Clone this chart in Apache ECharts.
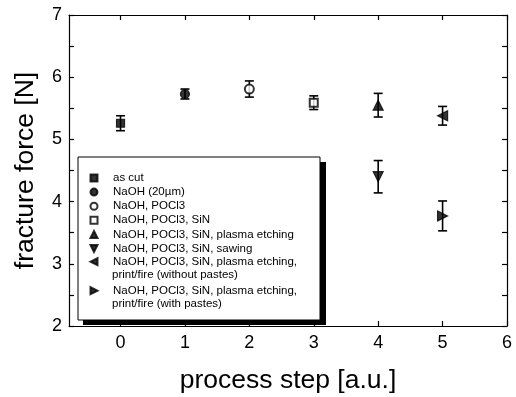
<!DOCTYPE html>
<html>
<head>
<meta charset="utf-8">
<script src="https://cdn.jsdelivr.net/npm/echarts@6/dist/echarts.min.js"></script>
<style>
html, body { margin: 0; padding: 0; background: #fff; }
#chart { width: 516px; height: 397px; }
</style>
</head>
<body>
<div id="chart"></div>
<script>
// process step of each sample group
const steps = [0, 1, 2, 3, 4, 4, 5, 5]
// mean fracture force [N] and its error
const force = [5.26, 5.73, 5.81, 5.59, 5.55, 4.40, 5.38, 3.77]
const forceErr = [0.12, 0.08, 0.13, 0.11, 0.19, 0.26, 0.15, 0.24]
const names = [
  'as cut',
  'NaOH (20µm)',
  'NaOH, POCl3',
  'NaOH, POCl3, SiN',
  'NaOH, POCl3, SiN, plasma etching',
  'NaOH, POCl3, SiN, sawing',
  'NaOH, POCl3, SiN, plasma etching,\nprint/fire (without pastes)',
  'NaOH, POCl3, SiN, plasma etching,\nprint/fire (with pastes)'
]
const symbols = ['rect', 'circle', 'emptyCircle', 'emptyRect', 'triangle', 'triangle', 'triangle', 'triangle']
const rotations = [0, 0, 0, 0, 0, 180, 90, -90]
const sizes = [8, 9, 9, 8, 10, 10, 10, 10]
const xTicks = [0, 1, 2, 3, 4, 5, 6]

// legend icons for the turned triangles (legend does not pick up symbolRotate)
const legendIcons = [null, null, null, null, null,
  'path://M0,0L10,0L5,10Z',
  'path://M10,0L10,10L0,5Z',
  'path://M0,0L10,5L0,10Z']

const font = 'Liberation Sans, Arial, sans-serif'
const chart = echarts.init(document.getElementById('chart'))

const series = names.map((name, i) => ({
  name,
  type: 'scatter',
  symbol: symbols[i],
  symbolSize: sizes[i],
  symbolRotate: rotations[i],
  itemStyle: { color: '#000', borderColor: '#000', borderWidth: 1.2 },
  z: 3,
  data: [[steps[i], force[i]]]
}))

series.push({
  type: 'custom',
  z: 2,
  encode: { x: 0, y: [1, 2] },
  data: steps.map((s, i) => [s, force[i] - forceErr[i], force[i] + forceErr[i]]),
  renderItem(params, api) {
    const top = api.coord([api.value(0), api.value(2)])
    const bot = api.coord([api.value(0), api.value(1)])
    const w = 4.5
    const style = { stroke: '#000', lineWidth: 1.6 }
    return {
      type: 'group',
      children: [
        { type: 'line', shape: { x1: top[0], y1: top[1], x2: bot[0], y2: bot[1] }, style },
        { type: 'line', shape: { x1: top[0] - w, y1: top[1], x2: top[0] + w, y2: top[1] }, style },
        { type: 'line', shape: { x1: bot[0] - w, y1: bot[1], x2: bot[0] + w, y2: bot[1] }, style }
      ]
    }
  }
})

const legendItems = names.map((name, i) => legendIcons[i] ? { name, icon: legendIcons[i] } : { name })

const legendBase = {
  orient: 'vertical',
  left: 89.5,
  padding: 0,
  itemWidth: 7,
  itemHeight: 7,
  formatter: (name) => name.split('\n')[0],
  textStyle: { fontFamily: font, fontSize: 11.5, color: '#000', lineHeight: 14, padding: [0, 0, 0, 10.5] }
}

const axisLine = { show: true, onZero: false, lineStyle: { color: '#000', width: 1.2 } }
const tickStyle = { color: '#000', width: 1.2 }

const option = {
  animation: false,
  grid: { left: 69, top: 15, right: 9, bottom: 71, outerBoundsMode: 'none' },
  xAxis: [
    {
      type: 'value',
      min: -0.8,
      max: 6,
      axisLine,
      splitLine: { show: false },
      axisTick: { inside: true, length: 5, lineStyle: tickStyle, customValues: xTicks },
      axisLabel: { customValues: xTicks, fontFamily: font, fontSize: 18, color: '#000', margin: 8 },
      name: 'process step [a.u.]',
      nameLocation: 'middle',
      nameGap: 41,
      nameTextStyle: { fontFamily: font, fontSize: 26.5, color: '#000' }
    },
    {
      type: 'value',
      position: 'top',
      min: -0.8,
      max: 6,
      axisLine,
      splitLine: { show: false },
      axisTick: { inside: true, length: 5, lineStyle: tickStyle, customValues: xTicks },
      axisLabel: { show: false }
    }
  ],
  yAxis: [
    {
      type: 'value',
      min: 2,
      max: 7,
      interval: 1,
      axisLine,
      splitLine: { show: false },
      axisTick: { inside: true, length: 5, lineStyle: tickStyle },
      minorTick: { show: true, splitNumber: 2, length: 5, lineStyle: tickStyle },
      axisLabel: { fontFamily: font, fontSize: 18, color: '#000', margin: 7 },
      name: 'fracture force [N]',
      nameLocation: 'middle',
      nameGap: 30,
      nameTextStyle: { fontFamily: font, fontSize: 26.5, color: '#000' }
    },
    {
      type: 'value',
      position: 'right',
      min: 2,
      max: 7,
      interval: 1,
      axisLine,
      splitLine: { show: false },
      axisTick: { inside: true, length: 5, lineStyle: tickStyle },
      minorTick: { show: true, splitNumber: 2, length: 5, lineStyle: tickStyle },
      axisLabel: { show: false }
    }
  ],
  legend: [
    Object.assign({}, legendBase, { top: 171, itemGap: 0.1, data: legendItems.slice(0, 6) }),
    Object.assign({}, legendBase, { top: 254.7, itemGap: 15, data: legendItems.slice(6) })
  ],
  graphic: [
    // legend frame with drop shadow
    { type: 'rect', z: 0, shape: { x: 83, y: 162, width: 243, height: 163 }, style: { fill: '#000' } },
    { type: 'rect', z: 1, shape: { x: 78, y: 157, width: 242, height: 163 }, style: { fill: '#fff', stroke: '#000', lineWidth: 1 } },
    { type: 'text', z: 2, x: 112, y: 275, style: { text: names[6].split('\n')[1], font: '11.5px ' + font, fill: '#000', verticalAlign: 'middle' } },
    { type: 'text', z: 2, x: 112, y: 304.3, style: { text: names[7].split('\n')[1], font: '11.5px ' + font, fill: '#000', verticalAlign: 'middle' } }
  ],
  series
}

chart.setOption(option)
</script>
</body>
</html>
